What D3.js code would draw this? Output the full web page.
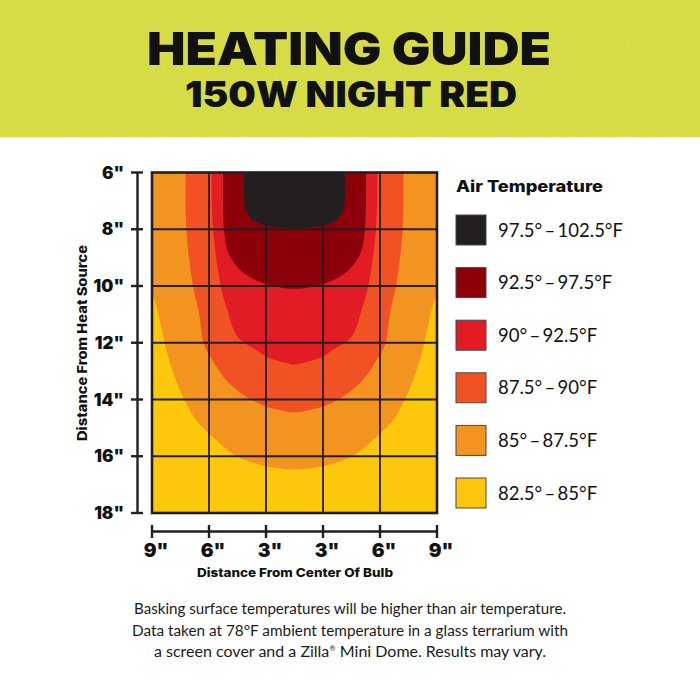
<!DOCTYPE html>
<html>
<head>
<meta charset="utf-8">
<script src="https://cdn.jsdelivr.net/npm/d3@7"></script>
<style>
  html, body { margin: 0; padding: 0; background: #fff; }
  svg { display: block; }
</style>
</head>
<body>
<div id="chart"></div>
<script>
// ---------- DATA ----------
const titleLines = ["HEATING GUIDE", "150W NIGHT RED"];
const yTicks = [6, 8, 10, 12, 14, 16, 18];
const yTickLabels = ['6"', '8"', '10"', '12"', '14"', '16"', '18"'];
// x ticks: grid-cell boundaries measured from the centre of the bulb
const xTicks = [-2.5, -1.5, -0.5, 0.5, 1.5, 2.5];
const xTickLabels = ['9"', '6"', '3"', '3"', '6"', '9"'];
const legendLabels = [
  "97.5°\u2009–\u2009102.5°F",
  "92.5°\u2009–\u200997.5°F",
  "90°\u2009–\u200992.5°F",
  "87.5°\u2009–\u200990°F",
  "85°\u2009–\u200987.5°F",
  "82.5°\u2009–\u200985°F"
];
const bandColors = ["#231f20", "#8c0009", "#e21c24", "#f05224", "#f39320", "#fdc80c"];

// Right-half boundary of each temperature zone: [offset from centre (grid cells), depth (inches)]
const zone85 = [[2.75, 5.0], [2.66, 6.97], [2.57, 9.08], [2.518, 10.02], [2.407, 10.84], [2.289, 11.89],
  [2.202, 12.6], [2.084, 13.3], [1.939, 13.98], [1.733, 14.71], [1.382, 15.41], [1.032, 15.98],
  [0.623, 16.29], [0.214, 16.44], [0, 16.47]];
const zone875 = [[1.909, 5.0], [1.909, 6.0], [1.898, 8.0], [1.781, 9.99], [1.675, 10.95], [1.588, 12.07],
  [1.442, 12.6], [1.207, 13.3], [0.856, 13.89], [0.505, 14.24], [0.154, 14.42], [0, 14.45]];
const zone90 = [[1.453, 5.0], [1.453, 6.0], [1.430, 8.0], [1.295, 9.99], [1.179, 10.84], [1.004, 11.78],
  [0.675, 12.25], [0.447, 12.54], [0.149, 12.71], [0, 12.77]];
const zone925 = [[1.254, 5.0], [1.254, 6.0], [1.237, 8.0], [1.179, 8.73], [1.061, 9.19], [0.886, 9.55],
  [0.623, 9.84], [0.272, 10.04], [0, 10.1]];
const zone975 = [[0.886, 5.0], [0.886, 6.0], [0.886, 6.85], [0.856, 7.32], [0.740, 7.67], [0.565, 7.83],
  [0.272, 7.93], [0, 7.97]];
const zones = [zone85, zone875, zone90, zone925, zone975];
const zoneColors = ["#f39320", "#f05224", "#e21c24", "#8c0009", "#231f20"];
const backgroundColor = "#fdc80c";

const footLines = [
  "Basking surface temperatures will be higher than air temperature.",
  "Data taken at 78°F ambient temperature in a glass terrarium with",
  "a screen cover and a Zilla® Mini Dome. Results may vary."
];

// ---------- LAYOUT ----------
const W = 700, H = 700;
const plot = { left: 152, right: 437, top: 172.5, bottom: 513 };
const heavy = "Inter, Roboto, 'DejaVu Sans', sans-serif";
const book = "Lato, 'Open Sans', sans-serif";

const svg = d3.select("#chart").append("svg")
  .attr("width", W).attr("height", H)
  .attr("viewBox", `0 0 ${W} ${H}`);

const defs = svg.append("defs");
const noise = defs.append("filter").attr("id", "grain")
  .attr("x", 0).attr("y", 0).attr("width", "100%").attr("height", "100%");
noise.append("feTurbulence").attr("type", "fractalNoise")
  .attr("baseFrequency", 0.75).attr("numOctaves", 3).attr("seed", 7);
noise.append("feColorMatrix").attr("type", "saturate").attr("values", 0);

defs.append("clipPath").attr("id", "plotClip")
  .append("rect")
  .attr("x", plot.left).attr("y", plot.top)
  .attr("width", plot.right - plot.left).attr("height", plot.bottom - plot.top);

// header band
svg.append("rect").attr("x", 0).attr("y", 0).attr("width", W).attr("height", 137)
  .attr("fill", "#d8df3d");
svg.append("rect").attr("x", 0).attr("y", 0).attr("width", W).attr("height", 137)
  .attr("filter", "url(#grain)").attr("opacity", 0.14);

svg.append("text").text(titleLines[0])
  .attr("x", 349).attr("y", 65)
  .attr("text-anchor", "middle")
  .attr("font-family", heavy).attr("font-weight", 900).attr("font-size", 45)
  .attr("textLength", 404).attr("lengthAdjust", "spacingAndGlyphs")
  .attr("fill", "#111");
svg.append("text").text(titleLines[1])
  .attr("x", 351).attr("y", 106.5)
  .attr("text-anchor", "middle")
  .attr("font-family", heavy).attr("font-weight", 900).attr("font-size", 35)
  .attr("textLength", 332).attr("lengthAdjust", "spacingAndGlyphs")
  .attr("fill", "#111");

// ---------- SCALES ----------
const x = d3.scaleLinear().domain([-2.5, 2.5]).range([plot.left, plot.right]);
const y = d3.scaleLinear().domain([6, 18]).range([plot.top, plot.bottom]);

// ---------- HEAT ZONES ----------
const g = svg.append("g").attr("clip-path", "url(#plotClip)");
g.append("rect")
  .attr("x", x(-2.5)).attr("y", y(6))
  .attr("width", x(2.5) - x(-2.5)).attr("height", y(18) - y(6))
  .attr("fill", backgroundColor);

const line = d3.line()
  .x(d => x(d[0])).y(d => y(d[1]))
  .curve(d3.curveCatmullRom.alpha(0.5));

function closedZone(profile) {
  const right = profile;
  const left = profile.slice(0, -1).reverse().map(p => [-p[0], p[1]]);
  return line(right.concat(left)) + "Z";
}

g.selectAll("path.zone").data(zones).join("path")
  .attr("class", "zone")
  .attr("d", d => closedZone(d))
  .attr("fill", (d, i) => zoneColors[i]);

// grid
const gridColor = "#231f20";
g.selectAll("line.vgrid").data(xTicks.slice(1, -1)).join("line")
  .attr("class", "vgrid")
  .attr("x1", d => x(d)).attr("x2", d => x(d))
  .attr("y1", y(6)).attr("y2", y(18))
  .attr("stroke", gridColor).attr("stroke-width", 1.8);
g.selectAll("line.hgrid").data(yTicks.slice(1, -1)).join("line")
  .attr("class", "hgrid")
  .attr("x1", x(-2.5)).attr("x2", x(2.5))
  .attr("y1", d => y(d)).attr("y2", d => y(d))
  .attr("stroke", gridColor).attr("stroke-width", 1.8);

svg.append("rect")
  .attr("x", x(-2.5)).attr("y", y(6))
  .attr("width", x(2.5) - x(-2.5)).attr("height", y(18) - y(6))
  .attr("fill", "none").attr("stroke", gridColor).attr("stroke-width", 2.6);

// ---------- Y AXIS ----------
const yAxisX = 137.5;
svg.append("line")
  .attr("x1", yAxisX).attr("x2", yAxisX)
  .attr("y1", y(6)).attr("y2", y(18))
  .attr("stroke", gridColor).attr("stroke-width", 2.4);
svg.selectAll("line.ytick").data(yTicks).join("line")
  .attr("class", "ytick")
  .attr("x1", 131).attr("x2", 143)
  .attr("y1", d => y(d)).attr("y2", d => y(d))
  .attr("stroke", gridColor).attr("stroke-width", 2.4);
svg.selectAll("text.ylab").data(yTicks).join("text")
  .attr("class", "ylab")
  .attr("x", 124).attr("y", d => y(d))
  .attr("dy", "0.36em")
  .attr("text-anchor", "end")
  .attr("font-family", heavy).attr("font-weight", 900).attr("font-size", 17)
  .attr("fill", "#111")
  .text((d, i) => yTickLabels[i]);
svg.append("text")
  .attr("transform", "translate(86.5,343) rotate(-90)")
  .attr("text-anchor", "middle")
  .attr("font-family", heavy).attr("font-weight", 800).attr("font-size", 13)
  .attr("textLength", 196).attr("lengthAdjust", "spacingAndGlyphs")
  .attr("fill", "#111")
  .text("Distance From Heat Source");

// ---------- X AXIS ----------
const xAxisY = 531.5;
svg.append("line")
  .attr("x1", x(-2.5)).attr("x2", x(2.5))
  .attr("y1", xAxisY).attr("y2", xAxisY)
  .attr("stroke", gridColor).attr("stroke-width", 2.4);
svg.selectAll("line.xtick").data(xTicks).join("line")
  .attr("class", "xtick")
  .attr("x1", d => x(d)).attr("x2", d => x(d))
  .attr("y1", 525).attr("y2", 538)
  .attr("stroke", gridColor).attr("stroke-width", 2.4);
svg.selectAll("text.xlab").data(xTicks).join("text")
  .attr("class", "xlab")
  .attr("x", d => x(d) + 4).attr("y", 556.5)
  .attr("text-anchor", "middle")
  .attr("font-family", heavy).attr("font-weight", 900).attr("font-size", 19)
  .attr("fill", "#111")
  .text((d, i) => xTickLabels[i]);
svg.append("text")
  .attr("x", 295).attr("y", 577)
  .attr("text-anchor", "middle")
  .attr("font-family", heavy).attr("font-weight", 800).attr("font-size", 12)
  .attr("textLength", 196).attr("lengthAdjust", "spacingAndGlyphs")
  .attr("fill", "#111")
  .text("Distance From Center Of Bulb");

// ---------- LEGEND ----------
svg.append("text")
  .attr("x", 456).attr("y", 192)
  .attr("font-family", heavy).attr("font-weight", 800).attr("font-size", 16)
  .attr("textLength", 147).attr("lengthAdjust", "spacingAndGlyphs")
  .attr("fill", "#111")
  .text("Air Temperature");
const legendY = d3.scaleLinear().domain([0, 5]).range([230, 493]);
const leg = svg.selectAll("g.leg").data(legendLabels).join("g")
  .attr("class", "leg")
  .attr("transform", (d, i) => `translate(456,${legendY(i)})`);
leg.append("rect")
  .attr("x", 0).attr("y", -15).attr("width", 30).attr("height", 30)
  .attr("fill", (d, i) => bandColors[i])
  .attr("stroke", "#4a4646").attr("stroke-width", 1);
leg.append("text")
  .attr("x", 42).attr("y", 0).attr("dy", "0.36em")
  .attr("font-family", book).attr("font-size", 18.5)
  .attr("fill", "#111")
  .text(d => d);

// ---------- FOOTNOTE ----------
const footY = [614, 636, 657];
const footW = [432, 436, 392];
footLines.forEach((t, i) => {
  const txt = svg.append("text")
    .attr("x", 350).attr("y", footY[i])
    .attr("text-anchor", "middle")
    .attr("font-family", book).attr("font-size", 14.5)
    .attr("fill", "#1a1a1a")
    .attr("textLength", footW[i]).attr("lengthAdjust", "spacingAndGlyphs");
  if (t.includes("®")) {
    const parts = t.split("®");
    txt.append("tspan").text(parts[0]);
    txt.append("tspan").text("®").attr("font-size", 7).attr("dy", -6);
    txt.append("tspan").text(parts[1]).attr("dy", 6);
  } else {
    txt.text(t);
  }
});
</script>
</body>
</html>
